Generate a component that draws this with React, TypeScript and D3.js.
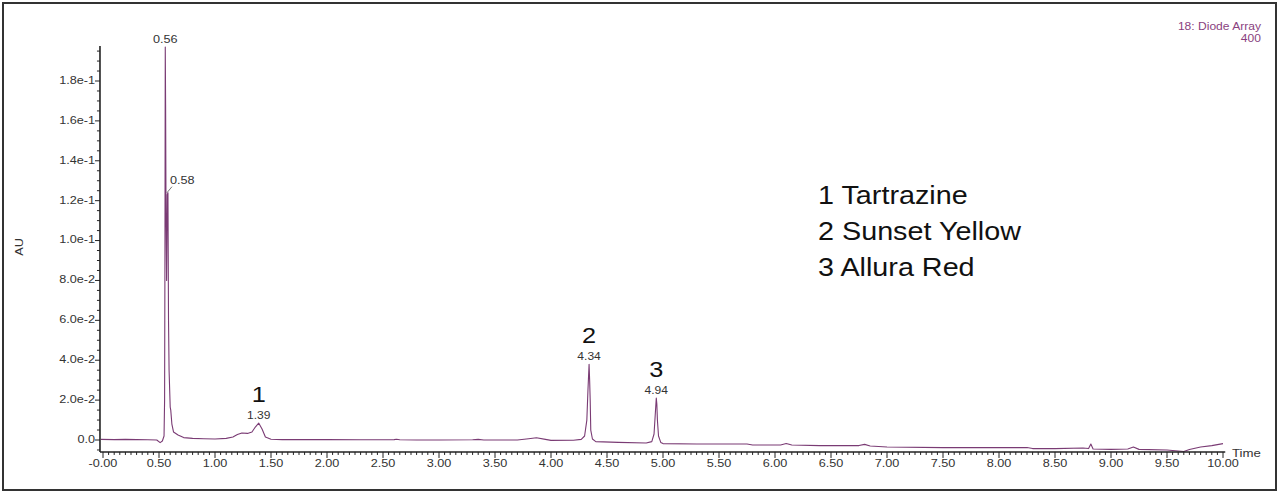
import React from 'react';
import * as d3 from 'd3';

// chromatogram trace (time in min, absorbance in AU)
const timeMin = [
  -0.02, 0.1, 0.2, 0.3, 0.4, 0.48, 0.51, 0.53, 0.545, 0.55, 0.553, 0.556, 0.559, 0.563, 0.568,
  0.574, 0.58, 0.585, 0.59, 0.6, 0.605, 0.615, 0.63, 0.67, 0.72, 0.8, 0.9, 1.0, 1.1, 1.16,
  1.2, 1.24, 1.29, 1.33, 1.36, 1.39, 1.42, 1.45, 1.5, 1.6, 1.8, 2.0, 2.3, 2.6, 2.62,
  2.65, 2.8, 3.0, 3.3, 3.35, 3.4, 3.7, 3.8, 3.87, 3.95, 4.0, 4.2, 4.27, 4.3, 4.32,
  4.33, 4.34, 4.345, 4.35, 4.355, 4.37, 4.4, 4.6, 4.85, 4.9, 4.92, 4.93, 4.94, 4.945, 4.95,
  4.96, 4.98, 5.0, 5.3, 5.5, 5.75, 5.8, 6.05, 6.1, 6.15, 6.4, 6.75, 6.8, 6.85, 7.0,
  7.5, 8.0, 8.25, 8.3, 8.5, 8.75, 8.8, 8.82, 8.84, 9.0, 9.15, 9.2, 9.25, 9.5, 9.65,
  9.7, 9.8, 9.9, 10.0,
];
const absAU = [
  0.0003, 0.0002, 0.0003, 0.0002, 0.0001, 0.0, -0.0013, -0.0005, 0.002, 0.02, 0.09, 0.197, 0.168, 0.11, 0.08,
  0.123, 0.124, 0.06, 0.035, 0.0165, 0.015, 0.008, 0.004, 0.0025, 0.0012, 0.0008, 0.0006, 0.0005, 0.0008, 0.0015,
  0.0028, 0.0035, 0.0033, 0.004, 0.0065, 0.0085, 0.0055, 0.0015, 0.0004, 0.0002, 0.0002, 0.0002, 0.0001, 0.0002, 0.0004,
  0.0001, 0.0, 0.0, 0.0001, 0.0003, 0.0, 0.0, 0.0006, 0.0011, 0.0003, -0.0002, -0.0001, 0.0003, 0.002, 0.01,
  0.025, 0.038, 0.03, 0.02, 0.005, 0.0005, -0.0008, -0.0012, -0.0015, -0.0008, 0.003, 0.012, 0.021, 0.018, 0.01,
  0.002, -0.0012, -0.0018, -0.002, -0.002, -0.002, -0.0025, -0.0025, -0.0018, -0.0025, -0.0028, -0.0028, -0.0022, -0.003, -0.0035,
  -0.0038, -0.0038, -0.0038, -0.0043, -0.0043, -0.004, -0.0043, -0.002, -0.0045, -0.0047, -0.0045, -0.0035, -0.0047, -0.005, -0.0058,
  -0.0048, -0.0035, -0.0028, -0.0018,
];

const xTickValues = [0, 0.5, 1, 1.5, 2, 2.5, 3, 3.5, 4, 4.5, 5, 5.5, 6, 6.5, 7, 7.5, 8, 8.5, 9, 9.5, 10];
const xTickLabels = ['-0.00', '0.50', '1.00', '1.50', '2.00', '2.50', '3.00', '3.50', '4.00', '4.50', '5.00',
  '5.50', '6.00', '6.50', '7.00', '7.50', '8.00', '8.50', '9.00', '9.50', '10.00'];
const yTickValues = [0, 0.02, 0.04, 0.06, 0.08, 0.1, 0.12, 0.14, 0.16, 0.18];
const yTickLabels = ['0.0', '2.0e-2', '4.0e-2', '6.0e-2', '8.0e-2', '1.0e-1', '1.2e-1', '1.4e-1', '1.6e-1', '1.8e-1'];

// apex labels
const apexTimes = [0.556, 0.58];
const apexAU = [0.197, 0.124];
const apexLabels = ['0.56', '0.58'];

const peakTimes = [1.39, 4.34, 4.94];
const peakAU = [0.0085, 0.038, 0.021];
const peakTimeLabels = ['1.39', '4.34', '4.94'];
const peakNumbers = ['1', '2', '3'];

const legendItems = ['1 Tartrazine', '2 Sunset Yellow', '3 Allura Red'];

const FONT = 'Arial, "Liberation Sans", sans-serif';
const TRACE = '#7a3b74';
const HS = 1.15; // the original image is a bit stretched sideways

const T: React.FC<{ x: number; y: number; size: number; fill?: string; anchor?: string; children: React.ReactNode; rotate?: number }> =
  ({ x, y, size, fill = '#333', anchor = 'middle', children, rotate }) => (
    <text
      transform={`translate(${x},${y})${rotate ? ` rotate(${rotate})` : ''} scale(${HS},1)`}
      fontSize={size}
      fontFamily={FONT}
      fill={fill}
      textAnchor={anchor}
      dominantBaseline="middle"
    >
      {children}
    </text>
  );

export default function App() {
  const W = 1280;
  const H = 494;

  const x = d3.scaleLinear().domain([0, 10]).range([103, 1223]);
  const y = d3.scaleLinear().domain([0, 0.18]).range([440, 81]);

  const xMin = -0.027;
  const xMax = 10.02;
  const yMin = -0.006;
  const yMax = 0.1975;

  const pts = timeMin.map((t, i) => [t, absAU[i]] as [number, number]);
  const line = d3.line<[number, number]>().x(d => x(d[0])).y(d => y(d[1]));

  const xMinor = d3.range(0, 201).map(i => i * 0.05);
  const yMinor = d3.range(-1, 40).map(i => i * 0.005);

  const axisColor = '#222';

  return (
    <svg width={W} height={H} style={{ position: 'absolute', left: 0, top: 0, background: '#fff' }}>
      <rect x={3} y={3} width={1273} height={487} fill="#fff" stroke="#333" strokeWidth={2} />

      {/* trace */}
      <path d={line(pts) || ''} fill="none" stroke={TRACE} strokeWidth={1.1} strokeLinejoin="round" />

      {/* y axis */}
      <line x1={x(xMin)} x2={x(xMin)} y1={y(yMax)} y2={y(yMin)} stroke={axisColor} strokeWidth={1.6} />
      {yMinor.map((v, i) => {
        const major = Math.abs(Math.round(v / 0.02) * 0.02 - v) < 1e-9;
        return (
          <line key={`ym${i}`} x1={x(xMin)} x2={x(xMin) - (major ? 5 : 3)} y1={y(v)} y2={y(v)}
            stroke={axisColor} strokeWidth={1} />
        );
      })}
      {yTickValues.map((v, i) => (
        <T key={`yl${i}`} x={95} y={y(v)} size={11} anchor="end">{yTickLabels[i]}</T>
      ))}
      <T x={20} y={247} size={11} rotate={-90}>AU</T>

      {/* x axis */}
      <line x1={x(xMin)} x2={x(xMax)} y1={y(yMin)} y2={y(yMin)} stroke={axisColor} strokeWidth={1.6} />
      {xMinor.map((v, i) => {
        const major = i % 10 === 0;
        return (
          <line key={`xm${i}`} x1={x(v)} x2={x(v)} y1={y(yMin)} y2={y(yMin) + (major ? 6 : 3)}
            stroke={axisColor} strokeWidth={1} />
        );
      })}
      {xTickValues.map((v, i) => (
        <T key={`xl${i}`} x={x(v)} y={464} size={11}>{xTickLabels[i]}</T>
      ))}
      <T x={1232} y={454} size={11.5} anchor="start">Time</T>

      {/* channel header */}
      <T x={1261} y={27} size={10.5} fill="#8a3f80" anchor="end">18: Diode Array</T>
      <T x={1261} y={39} size={10.5} fill="#8a3f80" anchor="end">400</T>

      {/* apex labels of the void peak */}
      <T x={x(apexTimes[0])} y={y(apexAU[0]) - 7} size={11}>{apexLabels[0]}</T>
      <line x1={x(apexTimes[1]) - 1} y1={y(apexAU[1])} x2={x(apexTimes[1]) + 4} y2={y(apexAU[1]) - 6}
        stroke="#555" strokeWidth={0.8} />
      <T x={x(apexTimes[1]) + 2} y={y(apexAU[1]) - 12} size={11} anchor="start">{apexLabels[1]}</T>

      {/* numbered peaks */}
      {peakTimes.map((t, i) => (
        <g key={`pk${i}`}>
          <T x={x(t)} y={y(peakAU[i]) - 7} size={10.5}>{peakTimeLabels[i]}</T>
          <T x={x(t)} y={y(peakAU[i]) - 27} size={22} fill="#111">{peakNumbers[i]}</T>
        </g>
      ))}

      {/* legend */}
      {legendItems.map((s, i) => (
        <T key={`lg${i}`} x={818} y={197 + i * 36} size={25} fill="#111" anchor="start">{s}</T>
      ))}
    </svg>
  );
}
